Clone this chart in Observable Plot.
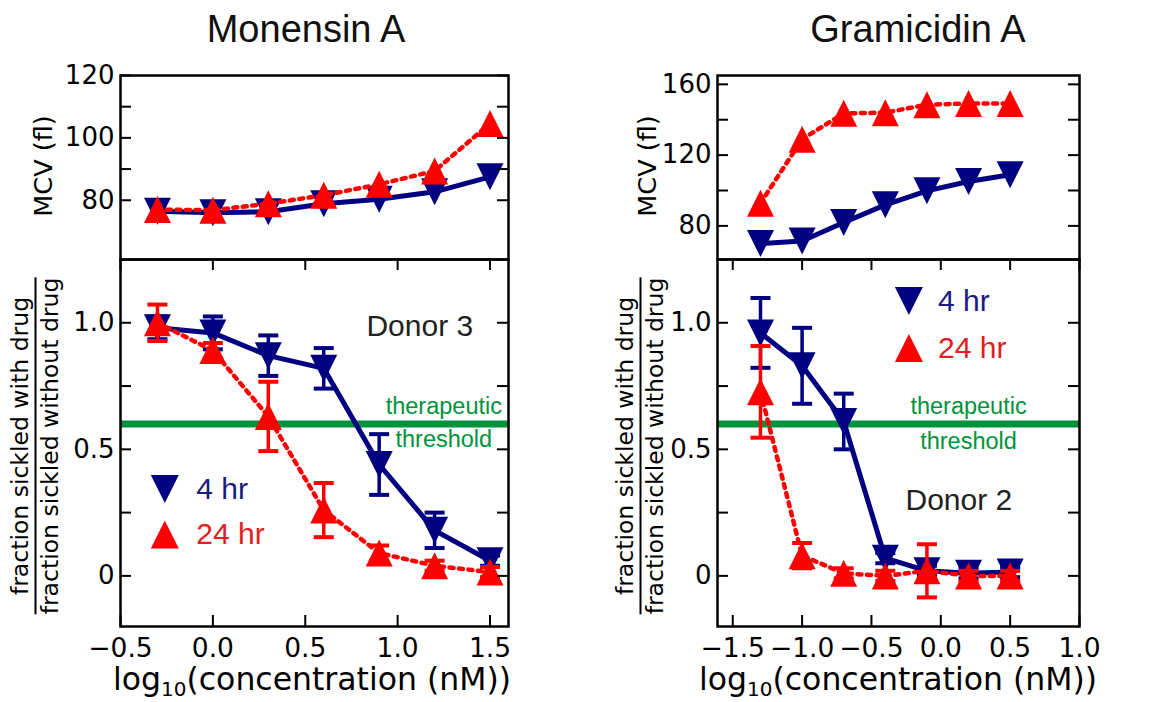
<!DOCTYPE html>
<html><head><meta charset="utf-8">
<script src="https://cdn.jsdelivr.net/npm/d3@7"></script>
<script src="https://cdn.jsdelivr.net/npm/@observablehq/plot@0.6"></script>
<style>
body{margin:0;background:#fff;}
#wrap{position:relative;width:1159px;height:702px;overflow:hidden;font-family:"DejaVu Sans",sans-serif;color:#000;}
#wrap svg{position:absolute;overflow:visible;}
.abs{position:absolute;white-space:nowrap;}
.title{font-family:"Liberation Sans",Arial,sans-serif;font-size:38px;line-height:38px;color:#111;text-align:center;width:400px;}
.xlab{font-size:31.5px;line-height:22px;text-align:center;width:500px;}
.rot{transform:translate(-50%,-50%) rotate(-90deg);text-align:center;}
.frac .num{font-size:23.5px;line-height:23px;padding-bottom:3px;border-bottom:2px solid #000;}
.frac .den{font-size:23.5px;line-height:23px;padding-top:2px;}
</style></head><body><div id="wrap"></div><script>
// ---------------- data ----------------
const monX = [-0.3, 0.0, 0.3, 0.6, 0.9, 1.2, 1.5];
const monMcv4 = [76.5, 76.0, 76.3, 78.9, 80.3, 82.7, 87.5];
const monMcv24 = [77.0, 76.8, 78.9, 81.6, 85.1, 89.4, 104.6];
const monFrac4 = [0.98, 0.96, 0.87, 0.82, 0.44, 0.18, 0.06];
const monErr4 = [0.045, 0.065, 0.08, 0.08, 0.12, 0.07, 0.02];
const monFrac24 = [1.0, 0.89, 0.63, 0.26, 0.09, 0.04, 0.015];
const monErr24 = [0.072, 0.03, 0.137, 0.107, 0.03, 0.02, 0.02];

const graX = [-1.3, -1.0, -0.7, -0.4, -0.1, 0.2, 0.5];
const graMcv4 = [70.0, 71.5, 81.9, 91.9, 99.8, 105.1, 108.9];
const graMcv24 = [92.8, 129.0, 143.6, 144.0, 148.5, 149.2, 149.2];
const graFrac4 = [0.96, 0.83, 0.61, 0.07, 0.02, 0.01, 0.015];
const graErr4 = [0.138, 0.15, 0.11, 0.02, 0.02, 0.02, 0.02];
const graFrac24 = [0.727, 0.08, 0.01, 0.0, 0.02, 0.0, 0.0];
const graErr24 = [0.181, 0.05, 0.02, 0.02, 0.105, 0.02, 0.02];

const threshold = [0.6];
const seriesNames = ["4 hr", "24 hr"];
const titles = ["Monensin A", "Gramicidin A"];
const donors = ["Donor 3", "Donor 2"];
const thresholdLabels = ["therapeutic", "threshold"];

const monXTicks = [-0.5, 0.0, 0.5, 1.0, 1.5];
const graXTicks = [-1.5, -1.0, -0.5, 0.0, 0.5, 1.0];
const monMcvTicks = [80, 90, 100, 110, 120];
const monMcvLabels = [80, 100, 120];
const graMcvTicks = [80, 100, 120, 140, 160];
const graMcvLabels = [80, 120, 160];
const fracTicks = [0, 0.25, 0.5, 0.75, 1.0];
const fracLabels = [0, 0.5, 1.0];

// ---------------- styles ----------------
const NAVY = "#000080", RED = "#ff0000", GREEN = "#00933c";
const RED_TXT = "#e0201e", NAVY_TXT = "#1a1a80";

const downTri = {draw(ctx, size){const r=Math.sqrt(size/Math.PI);ctx.moveTo(0,r);ctx.lineTo(-r,-r);ctx.lineTo(r,-r);ctx.closePath();}};
const upTri = {draw(ctx, size){const r=Math.sqrt(size/Math.PI);ctx.moveTo(0,-r);ctx.lineTo(-r,r);ctx.lineTo(r,r);ctx.closePath();}};
const capSym = {draw(ctx, size){const r=Math.sqrt(size/Math.PI);ctx.moveTo(-r,0);ctx.lineTo(r,0);}};

const rows = (xs, ys, es) => xs.map((x, i) => ({x, y: ys[i], e: es ? es[i] : 0}));
const minus = v => (v < 0 ? "\u2212" + Math.abs(v).toFixed(1) : v.toFixed(1));
const fracFmt = v => (v === 0 ? "0" : v.toFixed(1));

function seriesMarks(data, color, sym, dashed, withErr) {
  const m = [];
  if (withErr) {
    m.push(Plot.ruleX(data, {x: "x", y1: d => d.y - d.e, y2: d => d.y + d.e, stroke: color, strokeWidth: 3.5}));
    m.push(Plot.dot(data, {x: "x", y: d => d.y + d.e, symbol: capSym, r: 10, stroke: color, strokeWidth: 4, fill: "none"}));
    m.push(Plot.dot(data, {x: "x", y: d => d.y - d.e, symbol: capSym, r: 10, stroke: color, strokeWidth: 4, fill: "none"}));
  }
  m.push(Plot.line(data, dashed
    ? {x: "x", y: "y", stroke: color, strokeWidth: 4.5, strokeDasharray: "4,5.5"}
    : {x: "x", y: "y", stroke: color, strokeWidth: 5}));
  m.push(Plot.dot(data, {x: "x", y: "y", symbol: sym, r: 13.5, fill: color, stroke: "none"}));
  return m;
}

const wrap = document.getElementById("wrap");

function panel(o) {
  const fw = o.width - o.ml - o.mr, fh = o.height - o.mt - o.mb;
  const tk = {stroke: "#000", strokeWidth: 2};
  const marks = [
    ...o.marks,
    Plot.tickY(o.yTicks, {y: d => d, insetRight: fw - 11, ...tk}),
    Plot.tickY(o.yTicks, {y: d => d, insetLeft: fw - 11, ...tk}),
    Plot.text(o.yLabels, {y: d => d, text: o.yFmt, frameAnchor: "left", textAnchor: "end", dx: -6, fontSize: 26, fontFamily: "DejaVu Sans", fill: "#000"})
  ];
  if (o.xTicks) {
    marks.push(Plot.tickX(o.xTicks, {x: d => d, insetTop: fh - 11, ...tk}));
    marks.push(Plot.tickX(o.xTicks, {x: d => d, insetBottom: fh - 11, ...tk}));
    marks.push(Plot.text(o.xTicks, {x: d => d, text: minus, frameAnchor: "bottom", lineAnchor: "top", dy: 12, fontSize: 26.5, fontFamily: "DejaVu Sans", fill: "#000"}));
  }
  marks.push(Plot.frame({stroke: "#000", strokeWidth: 2.5}));
  const p = Plot.plot({
    width: o.width, height: o.height,
    marginTop: o.mt, marginBottom: o.mb, marginLeft: o.ml, marginRight: o.mr,
    x: {domain: o.xDomain, axis: null},
    y: {domain: o.yDomain, axis: null},
    style: {background: "transparent", fontFamily: "DejaVu Sans", overflow: "visible"},
    marks
  });
  p.style.left = o.left + "px";
  p.style.top = o.top + "px";
  wrap.append(p);
}

function legendMarks(x, y4, y24, xt) {
  const f = {fontFamily: "Liberation Sans, Arial, sans-serif", fontSize: 30, textAnchor: "start"};
  return [
    Plot.dot([0], {x, y: y4, symbol: downTri, r: 14, fill: NAVY}),
    Plot.dot([0], {x, y: y24, symbol: upTri, r: 14, fill: RED}),
    Plot.text([seriesNames[0]], {x: xt, y: y4, text: d => d, fill: NAVY_TXT, ...f}),
    Plot.text([seriesNames[1]], {x: xt, y: y24, text: d => d, fill: RED_TXT, ...f})
  ];
}
function thresholdMarks(x, yAbove, yBelow) {
  const f = {fontFamily: "Liberation Sans, Arial, sans-serif", fontSize: 23.5, fill: GREEN};
  return [
    Plot.text([thresholdLabels[0]], {x, y: yAbove, text: d => d, ...f}),
    Plot.text([thresholdLabels[1]], {x, y: yBelow, text: d => d, ...f})
  ];
}

const L = {left: 0, width: 540, ml: 120, mr: 32};
const R = {left: 580, width: 579, ml: 137, mr: 80};
const T = {top: 0, height: 262, mt: 75, mb: 3};
const B = {top: 256, height: 446, mt: 3, mb: 76};

// Monensin top
panel({...L, ...T, xDomain: [-0.5, 1.6], yDomain: [61, 120], yTicks: monMcvTicks, yLabels: monMcvLabels, yFmt: d => String(d),
  marks: [
    ...seriesMarks(rows(monX, monMcv4), NAVY, downTri, false, false),
    ...seriesMarks(rows(monX, monMcv24), RED, upTri, true, false)
  ]});
// Monensin bottom
panel({...L, ...B, xDomain: [-0.5, 1.6], yDomain: [-0.2, 1.25], yTicks: fracTicks, yLabels: fracLabels, yFmt: fracFmt, xTicks: monXTicks,
  marks: [
    Plot.ruleY(threshold, {stroke: GREEN, strokeWidth: 7}),
    ...seriesMarks(rows(monX, monFrac4, monErr4), NAVY, downTri, false, true),
    ...seriesMarks(rows(monX, monFrac24, monErr24), RED, upTri, true, true),
    ...thresholdMarks(1.25, 0.67, 0.537),
    Plot.text([donors[0]], {x: 1.12, y: 0.985, text: d => d, fontFamily: "Liberation Sans, Arial, sans-serif", fontSize: 30, fill: "#222"}),
    ...legendMarks(-0.26, 0.343, 0.163, -0.09)
  ]});
// Gramicidin top
panel({...R, ...T, xDomain: [-1.61, 1.0], yDomain: [61, 165], yTicks: graMcvTicks, yLabels: graMcvLabels, yFmt: d => String(d),
  marks: [
    ...seriesMarks(rows(graX, graMcv4), NAVY, downTri, false, false),
    ...seriesMarks(rows(graX, graMcv24), RED, upTri, true, false)
  ]});
// Gramicidin bottom
panel({...R, ...B, xDomain: [-1.61, 1.0], yDomain: [-0.2, 1.25], yTicks: fracTicks, yLabels: fracLabels, yFmt: fracFmt, xTicks: graXTicks,
  marks: [
    Plot.ruleY(threshold, {stroke: GREEN, strokeWidth: 7}),
    ...seriesMarks(rows(graX, graFrac4, graErr4), NAVY, downTri, false, true),
    ...seriesMarks(rows(graX, graFrac24, graErr24), RED, upTri, true, true),
    ...thresholdMarks(0.2, 0.67, 0.533),
    Plot.text([donors[1]], {x: 0.13, y: 0.3, text: d => d, fontFamily: "Liberation Sans, Arial, sans-serif", fontSize: 30, fill: "#222"}),
    ...legendMarks(-0.23, 1.086, 0.9, -0.02)
  ]});

// ---------------- HTML labels ----------------
function addDiv(cls, html, css) {
  const d = document.createElement("div");
  d.className = "abs " + cls;
  d.innerHTML = html;
  Object.assign(d.style, css);
  wrap.append(d);
  return d;
}
addDiv("title", titles[0], {left: (306 - 200) + "px", top: "10px"});
addDiv("title", titles[1], {left: (918 - 200) + "px", top: "10px"});
const xl = 'log<span style="font-size:20px;position:relative;top:6px;line-height:16px">10</span>(concentration (nM))';
addDiv("xlab", xl, {left: (312 - 250) + "px", top: "668px"});
addDiv("xlab", xl, {left: (898 - 250) + "px", top: "668px"});
addDiv("rot", "MCV (fl)", {left: "43px", top: "166px", fontSize: "25.5px", lineHeight: "25px"});
addDiv("rot", "MCV (fl)", {left: "647px", top: "166px", fontSize: "25.5px", lineHeight: "25px"});
const fr = '<div class="num">fraction sickled with drug</div><div class="den">fraction sickled without drug</div>';
addDiv("rot frac", fr, {left: "35px", top: "446px"});
addDiv("rot frac", fr, {left: "640px", top: "446px"});
</script></body></html>
